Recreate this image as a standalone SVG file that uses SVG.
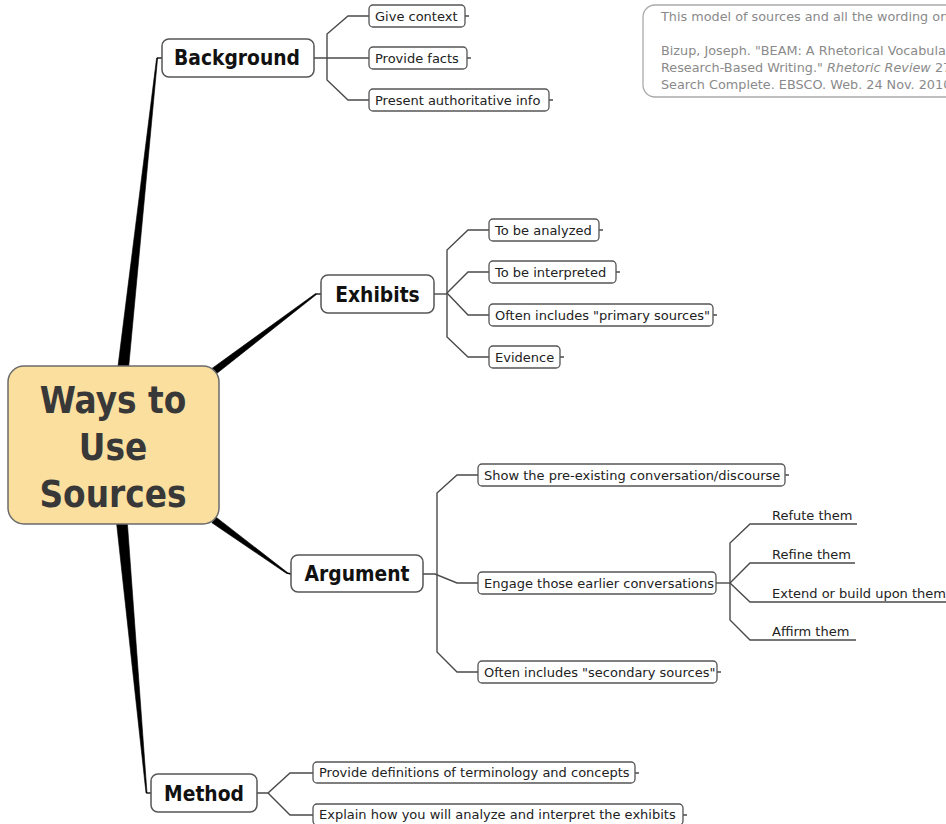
<svg xmlns="http://www.w3.org/2000/svg" width="946" height="824" viewBox="0 0 946 824">
<style>
.bg{fill:#fff}
.branch{fill:#000;stroke:#000;stroke-width:0.6;stroke-linejoin:round}
.stub{stroke:#000;stroke-width:1.3;fill:none}
.conn{stroke:#4a4a4a;stroke-width:1.4;fill:none}
.leaf{fill:#fff;stroke:#555;stroke-width:1.3}
.topic{fill:#fff;stroke:#555;stroke-width:1.5}
.central{fill:#fadf9f;stroke:#6b6b6b;stroke-width:1.5}
.note{fill:#fff;stroke:#aaa;stroke-width:1.3}
.t{font-family:"DejaVu Sans","Liberation Sans",sans-serif;font-size:13px;fill:#222}
.tt{font-family:"DejaVu Sans Condensed","DejaVu Sans","Liberation Sans",sans-serif;font-size:20.8px;font-weight:bold;fill:#111;text-anchor:middle}
.ct{font-family:"DejaVu Sans Condensed","DejaVu Sans","Liberation Sans",sans-serif;font-size:36.5px;font-weight:bold;fill:#383838;text-anchor:middle}
.nt{font-family:"DejaVu Sans","Liberation Sans",sans-serif;font-size:12.8px;fill:#8a8a8a}
</style>
<rect class="bg" x="0" y="0" width="946" height="824"/>

<g id="connectors">
  <!-- main branches -->
  <polygon class="branch" points="117,374 128,374 157.6,58 156.6,58"/>
  <path class="stub" d="M157,58 H162"/>
  <polygon class="branch" points="210.9,369.2 215.1,374.8 316.4,294.5 315.6,293.5"/>
  <path class="stub" d="M316,294 H321"/>
  <polygon class="branch" points="216.1,517.2 211.9,522.8 286.6,573.5 287.4,572.5"/>
  <path class="stub" d="M287,573 L291,574"/>
  <polygon class="branch" points="116,518 127,518 147,793 146,793"/>
  <path class="stub" d="M146.5,793 H151"/>
  <!-- Background children -->
  <path class="conn" d="M314,58 H369"/>
  <path class="conn" d="M369,16 H348 L327,34 V80 L348,100 H369"/>
  <!-- Exhibits children -->
  <path class="conn" d="M434,294 H447"/>
  <path class="conn" d="M489,230 H468 L447,250 V337 L468,357 H489"/>
  <path class="conn" d="M447,293 L468,272 H489"/>
  <path class="conn" d="M447,293 L468,315 H489"/>
  <!-- Argument children -->
  <path class="conn" d="M423,574 H435 L457,583 H478"/>
  <path class="conn" d="M478,475 H457 L437,493 V652 L457,672 H478"/>
  <!-- Engage children -->
  <path class="conn" d="M716,583 H730"/>
  <path class="conn" d="M857,524 H750 L730,543 V620 L750,640 H856"/>
  <path class="conn" d="M730,583 L750,563 H855"/>
  <path class="conn" d="M730,583 L750,602 H946"/>
  <!-- Method children -->
  <path class="conn" d="M257,793 H268 L290,773 H313"/>
  <path class="conn" d="M268,793 L290,815 H313"/>
  <!-- collapse ticks -->
  <path class="conn" d="M465,16 h4 M467,58 h4 M549,100 h4 M599,230 h4 M616,272 h4 M713,315 h4 M560,357 h4 M785,475 h4 M717,672 h4 M635,773 h4 M683,815 h4"/>
</g>

<g id="note">
  <rect class="note" x="643" y="5" width="330" height="92" rx="12"/>
  <text class="nt" x="661" y="21">This model of sources and all the wording on</text>
  <text class="nt" x="661" y="55">Bizup, Joseph. "BEAM: A Rhetorical Vocabulary</text>
  <text class="nt" x="661" y="72">Research-Based Writing." <tspan font-style="italic">Rhetoric Review</tspan> 27</text>
  <text class="nt" x="661" y="89">Search Complete. EBSCO. Web. 24 Nov. 2010</text>
</g>

<g id="central">
  <rect class="central" x="8" y="366" width="211" height="158" rx="16"/>
  <text class="ct" x="113" y="413">Ways to</text>
  <text class="ct" x="113" y="460">Use</text>
  <text class="ct" x="113" y="507">Sources</text>
</g>

<g id="background">
  <rect class="topic" x="162" y="39" width="152" height="38" rx="7"/>
  <text class="tt" x="237" y="65">Background</text>
</g>
<g id="give-context"><rect class="leaf" x="369" y="5" width="96" height="22" rx="4"/><text class="t" x="375" y="21">Give context</text></g>
<g id="provide-facts"><rect class="leaf" x="369" y="47" width="98" height="22" rx="4"/><text class="t" x="375" y="63">Provide facts</text></g>
<g id="present-info"><rect class="leaf" x="369" y="89" width="180" height="22" rx="4"/><text class="t" x="375" y="105">Present authoritative info</text></g>

<g id="exhibits">
  <rect class="topic" x="321" y="275" width="113" height="38" rx="7"/>
  <text class="tt" x="377.5" y="302">Exhibits</text>
</g>
<g id="analyzed"><rect class="leaf" x="489" y="219" width="110" height="22" rx="4"/><text class="t" x="495" y="235">To be analyzed</text></g>
<g id="interpreted"><rect class="leaf" x="489" y="261" width="127" height="22" rx="4"/><text class="t" x="495" y="277">To be interpreted</text></g>
<g id="primary"><rect class="leaf" x="489" y="304" width="224" height="22" rx="4"/><text class="t" x="495" y="320">Often includes "primary sources"</text></g>
<g id="evidence"><rect class="leaf" x="489" y="346" width="71" height="22" rx="4"/><text class="t" x="495" y="362">Evidence</text></g>

<g id="argument">
  <rect class="topic" x="291" y="555" width="132" height="37" rx="7"/>
  <text class="tt" x="357" y="581">Argument</text>
</g>
<g id="show-conv"><rect class="leaf" x="478" y="464" width="307" height="22" rx="4"/><text class="t" x="484" y="480">Show the pre-existing conversation/discourse</text></g>
<g id="engage"><rect class="leaf" x="478" y="572" width="238" height="22" rx="4"/><text class="t" x="484" y="588">Engage those earlier conversations</text></g>
<g id="secondary"><rect class="leaf" x="478" y="661" width="239" height="22" rx="4"/><text class="t" x="484" y="677">Often includes "secondary sources"</text></g>

<g id="refute"><text class="t" x="772" y="520">Refute them</text></g>
<g id="refine"><text class="t" x="772" y="559">Refine them</text></g>
<g id="extend"><text class="t" x="772" y="598">Extend or build upon them</text></g>
<g id="affirm"><text class="t" x="772" y="636">Affirm them</text></g>

<g id="method">
  <rect class="topic" x="151" y="774" width="106" height="38" rx="7"/>
  <text class="tt" x="204" y="801">Method</text>
</g>
<g id="definitions"><rect class="leaf" x="313" y="762" width="322" height="21" rx="4"/><text class="t" x="319" y="777">Provide definitions of terminology and concepts</text></g>
<g id="explain"><rect class="leaf" x="313" y="804" width="370" height="21" rx="4"/><text class="t" x="319" y="819">Explain how you will analyze and interpret the exhibits</text></g>
</svg>
